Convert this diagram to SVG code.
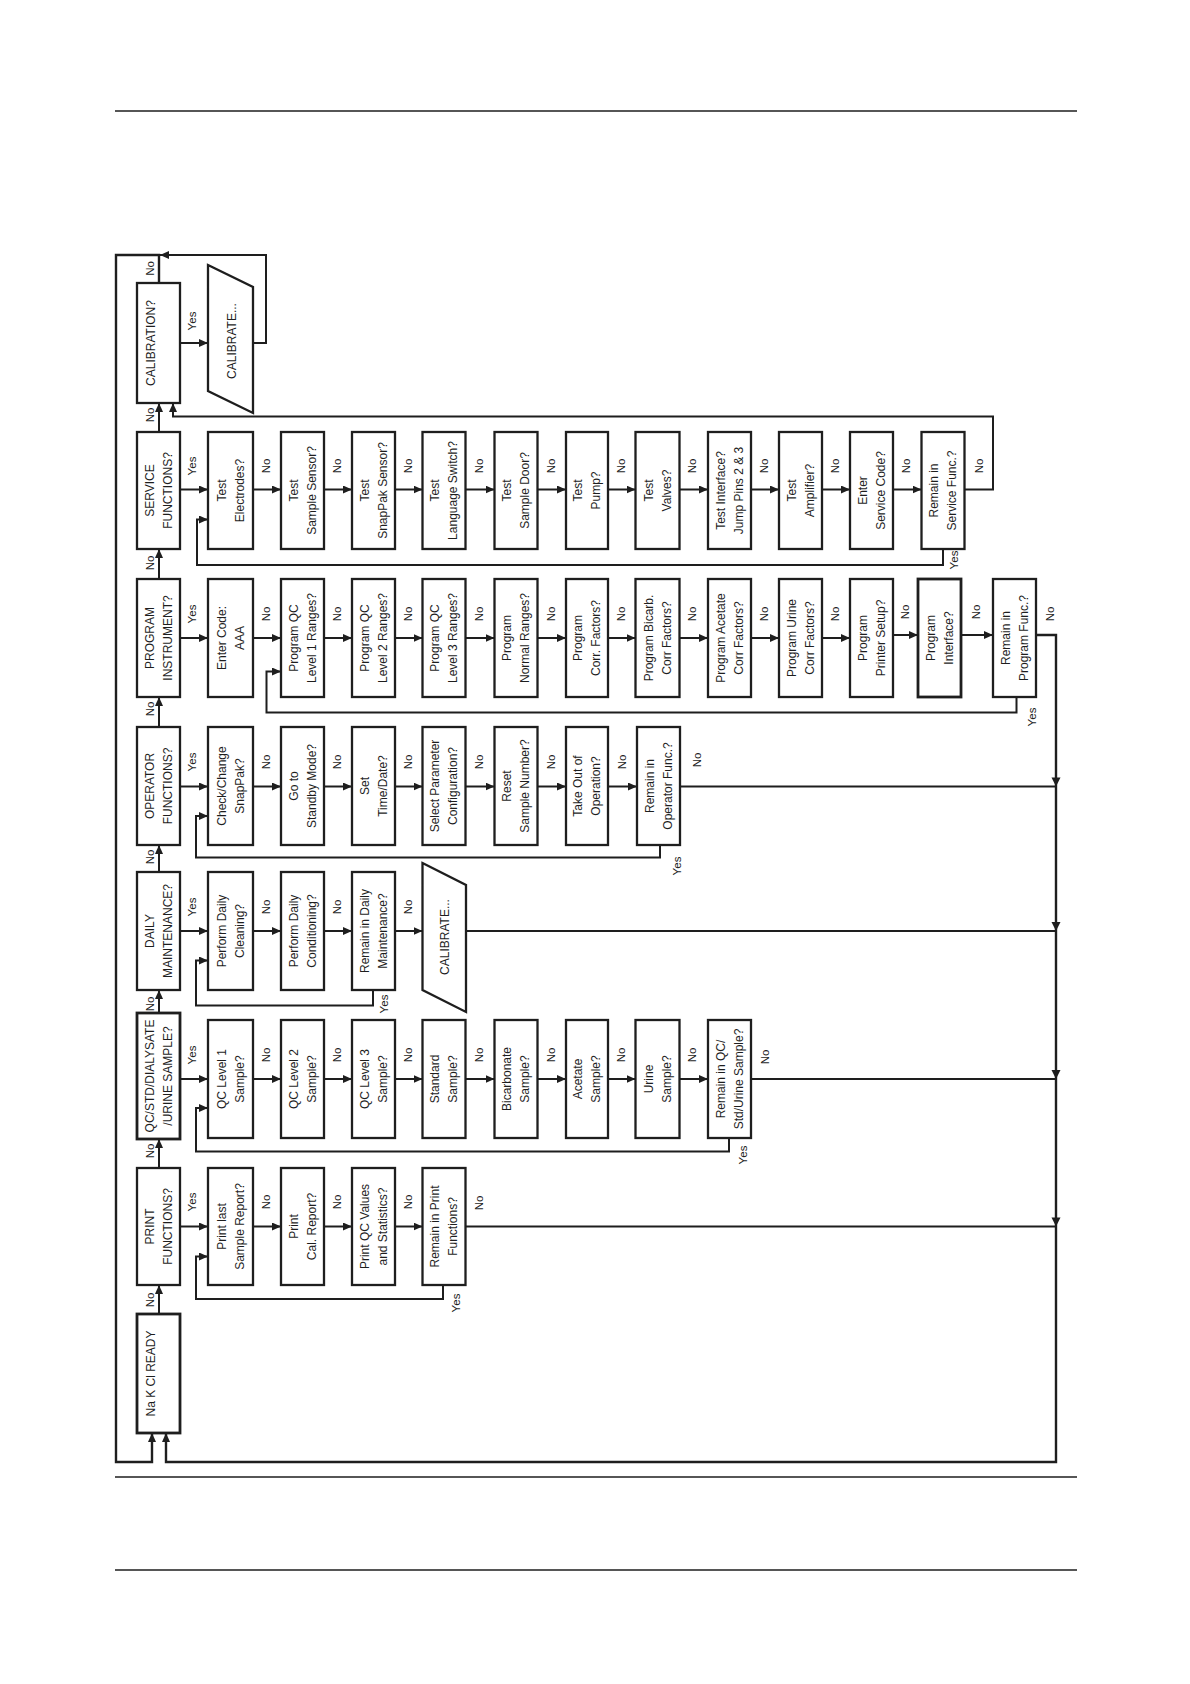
<svg xmlns="http://www.w3.org/2000/svg" xmlns:xlink="http://www.w3.org/1999/xlink" width="1190" height="1684" viewBox="0 0 1190 1684">
<style>
.box{fill:#fff;stroke:#1e1e1e;stroke-width:2.3}
.ln{fill:none;stroke:#1e1e1e;stroke-width:2}
.lnm{fill:none;stroke:#1e1e1e;stroke-width:2.4}
.pg{fill:none;stroke:#1e1e1e;stroke-width:1.4}
.t{font-family:"Liberation Sans",Arial,Helvetica,sans-serif;font-size:12px;fill:#1e1e1e;text-anchor:middle}
.l{font-family:"Liberation Sans",Arial,Helvetica,sans-serif;font-size:11.5px;fill:#1e1e1e;text-anchor:middle}
.ah{fill:#1e1e1e}
</style>
<defs>
<marker id="ar" markerWidth="9" markerHeight="8" refX="9" refY="4" orient="auto" markerUnits="userSpaceOnUse"><path d="M0,0 L9,4 L0,8 z" class="ah"/></marker>
<path id="dn" d="M-4.5,-9 L4.5,-9 L0,0 z" class="ah"/>
</defs>
<rect width="1190" height="1684" fill="#fff"/>
<g id="page-lines">
<line class="pg" x1="115" y1="111" x2="1077" y2="111"/>
<line class="pg" x1="115" y1="1477" x2="1077" y2="1477"/>
<line class="pg" x1="115" y1="1570" x2="1077" y2="1570"/>
</g>

<g id="connectors">
<!-- outer loops -->
<path class="lnm" d="M159,283 V255 H116 V1462 H152 V1433" marker-end="url(#ar)"/>
<path class="ln" d="M253,343 H266 V255 H160" marker-end="url(#ar)"/>
<path class="ln" d="M180,343 H208" marker-end="url(#ar)"/>
<path class="lnm" d="M1036,635 H1056 V1462 H166 V1433" marker-end="url(#ar)"/>
<use xlink:href="#dn" x="1056" y="786.5"/>
<use xlink:href="#dn" x="1056" y="931"/>
<use xlink:href="#dn" x="1056" y="1079"/>
<use xlink:href="#dn" x="1056" y="1226.5"/>
<!-- main column up arrows -->
<path class="ln" d="M159,432 V403" marker-end="url(#ar)"/>
<path class="ln" d="M159,579 V549" marker-end="url(#ar)"/>
<path class="ln" d="M159,727 V697" marker-end="url(#ar)"/>
<path class="ln" d="M159,872 V845" marker-end="url(#ar)"/>
<path class="ln" d="M159,1013 V990" marker-end="url(#ar)"/>
<path class="ln" d="M159,1168 V1139" marker-end="url(#ar)"/>
<path class="ln" d="M159,1314 V1285" marker-end="url(#ar)"/>
<!-- service row -->
<g marker-end="url(#ar)">
<path class="ln" d="M180,489.5 H208"/><path class="ln" d="M253,489.5 H281"/><path class="ln" d="M324,489.5 H352"/>
<path class="ln" d="M395,489.5 H422.5"/><path class="ln" d="M465.5,489.5 H494.5"/><path class="ln" d="M537.5,489.5 H566"/>
<path class="ln" d="M608,489.5 H635.5"/><path class="ln" d="M679.5,489.5 H708"/><path class="ln" d="M751,489.5 H779"/>
<path class="ln" d="M822,489.5 H850"/><path class="ln" d="M893,489.5 H921.5"/>
<path class="ln" d="M964.5,489.5 H993 V416.5 H173 V403"/>
<path class="ln" d="M943,549 V565 H197 V519.5 H208"/>
</g>
<!-- program row -->
<g marker-end="url(#ar)">
<path class="ln" d="M180,638 H208"/><path class="ln" d="M253,638 H281"/><path class="ln" d="M324,638 H352"/>
<path class="ln" d="M395,638 H422.5"/><path class="ln" d="M465.5,638 H494.5"/><path class="ln" d="M537.5,638 H566"/>
<path class="ln" d="M608,638 H635.5"/><path class="ln" d="M679.5,638 H708"/><path class="ln" d="M751,638 H779"/>
<path class="ln" d="M822,638 H850"/><path class="ln" d="M893,635 H918"/><path class="ln" d="M961,635 H993"/>
<path class="ln" d="M1016.5,697 V712.5 H266.5 V671.5 H281"/>
</g>
<!-- operator row -->
<g marker-end="url(#ar)">
<path class="ln" d="M180,786.5 H208"/><path class="ln" d="M253,786.5 H281"/><path class="ln" d="M324,786.5 H352"/>
<path class="ln" d="M395,786.5 H422.5"/><path class="ln" d="M465.5,786.5 H494.5"/><path class="ln" d="M537.5,786.5 H566"/>
<path class="ln" d="M608,786.5 H637"/>
<path class="ln" d="M660,845 V857.5 H196 V816 H208"/>
</g>
<path class="ln" d="M680,786.5 H1056"/>
<!-- daily row -->
<g marker-end="url(#ar)">
<path class="ln" d="M180,931 H208"/><path class="ln" d="M253,931 H281"/><path class="ln" d="M324,931 H352"/>
<path class="ln" d="M395,931 H422.5"/>
<path class="ln" d="M373,990 V1005.5 H196 V960.5 H208"/>
</g>
<path class="ln" d="M466,931 H1056"/>
<!-- qc row -->
<g marker-end="url(#ar)">
<path class="ln" d="M180,1079 H208"/><path class="ln" d="M253,1079 H281"/><path class="ln" d="M324,1079 H352"/>
<path class="ln" d="M395,1079 H422.5"/><path class="ln" d="M465.5,1079 H494.5"/><path class="ln" d="M537.5,1079 H566"/>
<path class="ln" d="M608,1079 H635.5"/><path class="ln" d="M679.5,1079 H708"/>
<path class="ln" d="M729,1138 V1151.5 H196 V1108 H208"/>
</g>
<path class="ln" d="M751,1079 H1056"/>
<!-- print row -->
<g marker-end="url(#ar)">
<path class="ln" d="M180,1226.5 H208"/><path class="ln" d="M253,1226.5 H281"/><path class="ln" d="M324,1226.5 H352"/>
<path class="ln" d="M395,1226.5 H422.5"/>
<path class="ln" d="M443,1285 V1299 H196 V1256.5 H208"/>
</g>
<path class="ln" d="M465.5,1226.5 H1056"/>
</g>

<g id="edge-labels" class="l">
<!-- main No -->
<text class="l" transform="translate(149.5,268.5) rotate(-90)" y="4.2">No</text>
<text class="l" transform="translate(149.5,415) rotate(-90)" y="4.2">No</text>
<text class="l" transform="translate(149.5,563) rotate(-90)" y="4.2">No</text>
<text class="l" transform="translate(149.5,709) rotate(-90)" y="4.2">No</text>
<text class="l" transform="translate(149.5,857) rotate(-90)" y="4.2">No</text>
<text class="l" transform="translate(149.5,1004) rotate(-90)" y="4.2">No</text>
<text class="l" transform="translate(149.5,1151) rotate(-90)" y="4.2">No</text>
<text class="l" transform="translate(149.5,1300) rotate(-90)" y="4.2">No</text>
<!-- main Yes -->
<text class="l" transform="translate(192,321) rotate(-90)" y="4.2">Yes</text>
<text class="l" transform="translate(192,466) rotate(-90)" y="4.2">Yes</text>
<text class="l" transform="translate(192,614) rotate(-90)" y="4.2">Yes</text>
<text class="l" transform="translate(192,762) rotate(-90)" y="4.2">Yes</text>
<text class="l" transform="translate(192,907) rotate(-90)" y="4.2">Yes</text>
<text class="l" transform="translate(192,1055) rotate(-90)" y="4.2">Yes</text>
<text class="l" transform="translate(192,1202) rotate(-90)" y="4.2">Yes</text>
<!-- service row No -->
<text class="l" transform="translate(266,466) rotate(-90)" y="4.2">No</text>
<text class="l" transform="translate(337,466) rotate(-90)" y="4.2">No</text>
<text class="l" transform="translate(408,466) rotate(-90)" y="4.2">No</text>
<text class="l" transform="translate(479,466) rotate(-90)" y="4.2">No</text>
<text class="l" transform="translate(551,466) rotate(-90)" y="4.2">No</text>
<text class="l" transform="translate(621,466) rotate(-90)" y="4.2">No</text>
<text class="l" transform="translate(692,466) rotate(-90)" y="4.2">No</text>
<text class="l" transform="translate(764,466) rotate(-90)" y="4.2">No</text>
<text class="l" transform="translate(835,466) rotate(-90)" y="4.2">No</text>
<text class="l" transform="translate(906,466) rotate(-90)" y="4.2">No</text>
<text class="l" transform="translate(979,466) rotate(-90)" y="4.2">No</text>
<text class="l" transform="translate(954,560) rotate(-90)" y="4.2">Yes</text>
<!-- program row No -->
<text class="l" transform="translate(266,614) rotate(-90)" y="4.2">No</text>
<text class="l" transform="translate(337,614) rotate(-90)" y="4.2">No</text>
<text class="l" transform="translate(408,614) rotate(-90)" y="4.2">No</text>
<text class="l" transform="translate(479,614) rotate(-90)" y="4.2">No</text>
<text class="l" transform="translate(551,614) rotate(-90)" y="4.2">No</text>
<text class="l" transform="translate(621,614) rotate(-90)" y="4.2">No</text>
<text class="l" transform="translate(692,614) rotate(-90)" y="4.2">No</text>
<text class="l" transform="translate(764,614) rotate(-90)" y="4.2">No</text>
<text class="l" transform="translate(835,614) rotate(-90)" y="4.2">No</text>
<text class="l" transform="translate(905,612) rotate(-90)" y="4.2">No</text>
<text class="l" transform="translate(976,612) rotate(-90)" y="4.2">No</text>
<text class="l" transform="translate(1050,614) rotate(-90)" y="4.2">No</text>
<text class="l" transform="translate(1031.5,717) rotate(-90)" y="4.2">Yes</text>
<!-- operator row -->
<text class="l" transform="translate(266,762) rotate(-90)" y="4.2">No</text>
<text class="l" transform="translate(337,762) rotate(-90)" y="4.2">No</text>
<text class="l" transform="translate(408,762) rotate(-90)" y="4.2">No</text>
<text class="l" transform="translate(479,762) rotate(-90)" y="4.2">No</text>
<text class="l" transform="translate(551,762) rotate(-90)" y="4.2">No</text>
<text class="l" transform="translate(622,762) rotate(-90)" y="4.2">No</text>
<text class="l" transform="translate(697,760) rotate(-90)" y="4.2">No</text>
<text class="l" transform="translate(676.5,866) rotate(-90)" y="4.2">Yes</text>
<!-- daily row -->
<text class="l" transform="translate(266,907) rotate(-90)" y="4.2">No</text>
<text class="l" transform="translate(337,907) rotate(-90)" y="4.2">No</text>
<text class="l" transform="translate(408,907) rotate(-90)" y="4.2">No</text>
<text class="l" transform="translate(384,1004) rotate(-90)" y="4.2">Yes</text>
<!-- qc row -->
<text class="l" transform="translate(266,1055) rotate(-90)" y="4.2">No</text>
<text class="l" transform="translate(337,1055) rotate(-90)" y="4.2">No</text>
<text class="l" transform="translate(408,1055) rotate(-90)" y="4.2">No</text>
<text class="l" transform="translate(479,1055) rotate(-90)" y="4.2">No</text>
<text class="l" transform="translate(551,1055) rotate(-90)" y="4.2">No</text>
<text class="l" transform="translate(621,1055) rotate(-90)" y="4.2">No</text>
<text class="l" transform="translate(692,1055) rotate(-90)" y="4.2">No</text>
<text class="l" transform="translate(765,1057) rotate(-90)" y="4.2">No</text>
<text class="l" transform="translate(743,1155) rotate(-90)" y="4.2">Yes</text>
<!-- print row -->
<text class="l" transform="translate(266,1202) rotate(-90)" y="4.2">No</text>
<text class="l" transform="translate(337,1202) rotate(-90)" y="4.2">No</text>
<text class="l" transform="translate(408,1202) rotate(-90)" y="4.2">No</text>
<text class="l" transform="translate(479,1203) rotate(-90)" y="4.2">No</text>
<text class="l" transform="translate(455.5,1303) rotate(-90)" y="4.2">Yes</text>
</g>

<!-- main column -->
<g id="calibration"><rect class="box" x="137" y="283" width="43" height="120"/><text class="t" transform="translate(150.5,343) rotate(-90)" y="4.3">CALIBRATION?</text></g>
<g id="calibrate-top"><path class="box" d="M208,265 L253,287 L253,413 L208,391 Z"/><text class="t" transform="translate(231.5,341) rotate(-90)" y="4.3">CALIBRATE...</text></g>
<g id="service"><rect class="box" x="137" y="432" width="43" height="117"/><text class="t" transform="translate(158.5,490.5) rotate(-90)"><tspan x="0" y="-4.7">SERVICE</tspan><tspan x="0" y="13.3">FUNCTIONS?</tspan></text></g>
<g id="program"><rect class="box" x="137" y="579" width="43" height="118"/><text class="t" transform="translate(158.5,638) rotate(-90)"><tspan x="0" y="-4.7">PROGRAM</tspan><tspan x="0" y="13.3">INSTRUMENT?</tspan></text></g>
<g id="operator"><rect class="box" x="137" y="727" width="43" height="118"/><text class="t" transform="translate(158.5,786) rotate(-90)"><tspan x="0" y="-4.7">OPERATOR</tspan><tspan x="0" y="13.3">FUNCTIONS?</tspan></text></g>
<g id="daily"><rect class="box" x="137" y="872" width="43" height="118"/><text class="t" transform="translate(158.5,931) rotate(-90)"><tspan x="0" y="-4.7">DAILY</tspan><tspan x="0" y="13.3">MAINTENANCE?</tspan></text></g>
<g id="qc"><rect class="box" x="137" y="1013" width="43" height="126" style="stroke-width:2.8"/><text class="t" transform="translate(158.5,1076) rotate(-90)"><tspan x="0" y="-4.7">QC/STD/DIALYSATE</tspan><tspan x="0" y="13.3">/URINE SAMPLE?</tspan></text></g>
<g id="print"><rect class="box" x="137" y="1168" width="43" height="117"/><text class="t" transform="translate(158.5,1226.5) rotate(-90)"><tspan x="0" y="-4.7">PRINT</tspan><tspan x="0" y="13.3">FUNCTIONS?</tspan></text></g>
<g id="ready"><rect class="box" x="137" y="1314" width="43" height="119" style="stroke-width:2.8"/><text class="t" transform="translate(150.5,1373.5) rotate(-90)" y="4.3">Na K Cl  READY</text></g>

<!-- service row nodes -->
<g id="s1"><rect class="box" x="208" y="432" width="45" height="117"/><text class="t" transform="translate(230.5,490.5) rotate(-90)"><tspan x="0" y="-4.7">Test</tspan><tspan x="0" y="13.3">Electrodes?</tspan></text></g>
<g id="s2"><rect class="box" x="281" y="432" width="43" height="117"/><text class="t" transform="translate(302.5,490.5) rotate(-90)"><tspan x="0" y="-4.7">Test</tspan><tspan x="0" y="13.3">Sample Sensor?</tspan></text></g>
<g id="s3"><rect class="box" x="352" y="432" width="43" height="117"/><text class="t" transform="translate(373.5,490.5) rotate(-90)"><tspan x="0" y="-4.7">Test</tspan><tspan x="0" y="13.3">SnapPak Sensor?</tspan></text></g>
<g id="s4"><rect class="box" x="422.5" y="432" width="43" height="117"/><text class="t" transform="translate(444,490.5) rotate(-90)"><tspan x="0" y="-4.7">Test</tspan><tspan x="0" y="13.3">Language Switch?</tspan></text></g>
<g id="s5"><rect class="box" x="494.5" y="432" width="43" height="117"/><text class="t" transform="translate(516,490.5) rotate(-90)"><tspan x="0" y="-4.7">Test</tspan><tspan x="0" y="13.3">Sample Door?</tspan></text></g>
<g id="s6"><rect class="box" x="566" y="432" width="42" height="117"/><text class="t" transform="translate(587,490.5) rotate(-90)"><tspan x="0" y="-4.7">Test</tspan><tspan x="0" y="13.3">Pump?</tspan></text></g>
<g id="s7"><rect class="box" x="635.5" y="432" width="44" height="117"/><text class="t" transform="translate(657.5,490.5) rotate(-90)"><tspan x="0" y="-4.7">Test</tspan><tspan x="0" y="13.3">Valves?</tspan></text></g>
<g id="s8"><rect class="box" x="708" y="432" width="43" height="117"/><text class="t" transform="translate(729.5,490.5) rotate(-90)"><tspan x="0" y="-4.7">Test Interface?</tspan><tspan x="0" y="13.3">Jump Pins 2 &amp; 3</tspan></text></g>
<g id="s9"><rect class="box" x="779" y="432" width="43" height="117"/><text class="t" transform="translate(800.5,490.5) rotate(-90)"><tspan x="0" y="-4.7">Test</tspan><tspan x="0" y="13.3">Amplifier?</tspan></text></g>
<g id="s10"><rect class="box" x="850" y="432" width="43" height="117"/><text class="t" transform="translate(871.5,490.5) rotate(-90)"><tspan x="0" y="-4.7">Enter</tspan><tspan x="0" y="13.3">Service Code?</tspan></text></g>
<g id="s11"><rect class="box" x="921.5" y="432" width="43" height="117"/><text class="t" transform="translate(943,490.5) rotate(-90)"><tspan x="0" y="-4.7">Remain in</tspan><tspan x="0" y="13.3">Service Func.?</tspan></text></g>

<!-- program row nodes -->
<g id="p1"><rect class="box" x="208" y="579" width="45" height="118"/><text class="t" transform="translate(230.5,638) rotate(-90)"><tspan x="0" y="-4.7">Enter Code:</tspan><tspan x="0" y="13.3">AAA</tspan></text></g>
<g id="p2"><rect class="box" x="281" y="579" width="43" height="118"/><text class="t" transform="translate(302.5,638) rotate(-90)"><tspan x="0" y="-4.7">Program QC</tspan><tspan x="0" y="13.3">Level 1 Ranges?</tspan></text></g>
<g id="p3"><rect class="box" x="352" y="579" width="43" height="118"/><text class="t" transform="translate(373.5,638) rotate(-90)"><tspan x="0" y="-4.7">Program QC</tspan><tspan x="0" y="13.3">Level 2 Ranges?</tspan></text></g>
<g id="p4"><rect class="box" x="422.5" y="579" width="43" height="118"/><text class="t" transform="translate(444,638) rotate(-90)"><tspan x="0" y="-4.7">Program QC</tspan><tspan x="0" y="13.3">Level 3 Ranges?</tspan></text></g>
<g id="p5"><rect class="box" x="494.5" y="579" width="43" height="118"/><text class="t" transform="translate(516,638) rotate(-90)"><tspan x="0" y="-4.7">Program</tspan><tspan x="0" y="13.3">Normal Ranges?</tspan></text></g>
<g id="p6"><rect class="box" x="566" y="579" width="42" height="118"/><text class="t" transform="translate(587,638) rotate(-90)"><tspan x="0" y="-4.7">Program</tspan><tspan x="0" y="13.3">Corr. Factors?</tspan></text></g>
<g id="p7"><rect class="box" x="635.5" y="579" width="44" height="118"/><text class="t" transform="translate(657.5,638) rotate(-90)"><tspan x="0" y="-4.7">Program Bicarb.</tspan><tspan x="0" y="13.3">Corr Factors?</tspan></text></g>
<g id="p8"><rect class="box" x="708" y="579" width="43" height="118"/><text class="t" transform="translate(729.5,638) rotate(-90)"><tspan x="0" y="-4.7">Program Acetate</tspan><tspan x="0" y="13.3">Corr Factors?</tspan></text></g>
<g id="p9"><rect class="box" x="779" y="579" width="43" height="118"/><text class="t" transform="translate(800.5,638) rotate(-90)"><tspan x="0" y="-4.7">Program Urine</tspan><tspan x="0" y="13.3">Corr Factors?</tspan></text></g>
<g id="p10"><rect class="box" x="850" y="579" width="43" height="118"/><text class="t" transform="translate(871.5,638) rotate(-90)"><tspan x="0" y="-4.7">Program</tspan><tspan x="0" y="13.3">Printer Setup?</tspan></text></g>
<g id="p11"><rect class="box" x="918" y="579" width="43" height="118" style="stroke-width:2.8"/><text class="t" transform="translate(939.5,638) rotate(-90)"><tspan x="0" y="-4.7">Program</tspan><tspan x="0" y="13.3">Interface?</tspan></text></g>
<g id="p12"><rect class="box" x="993" y="579" width="43" height="118"/><text class="t" transform="translate(1014.5,638) rotate(-90)"><tspan x="0" y="-4.7">Remain in</tspan><tspan x="0" y="13.3">Program Func.?</tspan></text></g>

<!-- operator row nodes -->
<g id="o1"><rect class="box" x="208" y="727" width="45" height="118"/><text class="t" transform="translate(230.5,786) rotate(-90)"><tspan x="0" y="-4.7">Check/Change</tspan><tspan x="0" y="13.3">SnapPak?</tspan></text></g>
<g id="o2"><rect class="box" x="281" y="727" width="43" height="118"/><text class="t" transform="translate(302.5,786) rotate(-90)"><tspan x="0" y="-4.7">Go to</tspan><tspan x="0" y="13.3">Standby Mode?</tspan></text></g>
<g id="o3"><rect class="box" x="352" y="727" width="43" height="118"/><text class="t" transform="translate(373.5,786) rotate(-90)"><tspan x="0" y="-4.7">Set</tspan><tspan x="0" y="13.3">Time/Date?</tspan></text></g>
<g id="o4"><rect class="box" x="422.5" y="727" width="43" height="118"/><text class="t" transform="translate(444,786) rotate(-90)"><tspan x="0" y="-4.7">Select Parameter</tspan><tspan x="0" y="13.3">Configuration?</tspan></text></g>
<g id="o5"><rect class="box" x="494.5" y="727" width="43" height="118"/><text class="t" transform="translate(516,786) rotate(-90)"><tspan x="0" y="-4.7">Reset</tspan><tspan x="0" y="13.3">Sample Number?</tspan></text></g>
<g id="o6"><rect class="box" x="566" y="727" width="42" height="118"/><text class="t" transform="translate(587,786) rotate(-90)"><tspan x="0" y="-4.7">Take Out of</tspan><tspan x="0" y="13.3">Operation?</tspan></text></g>
<g id="o7"><rect class="box" x="637" y="727" width="43" height="118"/><text class="t" transform="translate(658.5,786) rotate(-90)"><tspan x="0" y="-4.7">Remain in</tspan><tspan x="0" y="13.3">Operator Func.?</tspan></text></g>

<!-- daily row nodes -->
<g id="d1"><rect class="box" x="208" y="872" width="45" height="118"/><text class="t" transform="translate(230.5,931) rotate(-90)"><tspan x="0" y="-4.7">Perform Daily</tspan><tspan x="0" y="13.3">Cleaning?</tspan></text></g>
<g id="d2"><rect class="box" x="281" y="872" width="43" height="118"/><text class="t" transform="translate(302.5,931) rotate(-90)"><tspan x="0" y="-4.7">Perform Daily</tspan><tspan x="0" y="13.3">Conditioning?</tspan></text></g>
<g id="d3"><rect class="box" x="352" y="872" width="43" height="118"/><text class="t" transform="translate(373.5,931) rotate(-90)"><tspan x="0" y="-4.7">Remain in Daily</tspan><tspan x="0" y="13.3">Maintenance?</tspan></text></g>
<g id="d4"><path class="box" d="M422.5,863 L466,885 L466,1012 L422.5,990 Z"/><text class="t" transform="translate(445,937) rotate(-90)" y="4.3">CALIBRATE...</text></g>

<!-- qc row nodes -->
<g id="q1"><rect class="box" x="208" y="1020" width="45" height="118"/><text class="t" transform="translate(230.5,1079) rotate(-90)"><tspan x="0" y="-4.7">QC Level 1</tspan><tspan x="0" y="13.3">Sample?</tspan></text></g>
<g id="q2"><rect class="box" x="281" y="1020" width="43" height="118"/><text class="t" transform="translate(302.5,1079) rotate(-90)"><tspan x="0" y="-4.7">QC Level 2</tspan><tspan x="0" y="13.3">Sample?</tspan></text></g>
<g id="q3"><rect class="box" x="352" y="1020" width="43" height="118"/><text class="t" transform="translate(373.5,1079) rotate(-90)"><tspan x="0" y="-4.7">QC Level 3</tspan><tspan x="0" y="13.3">Sample?</tspan></text></g>
<g id="q4"><rect class="box" x="422.5" y="1020" width="43" height="118"/><text class="t" transform="translate(444,1079) rotate(-90)"><tspan x="0" y="-4.7">Standard</tspan><tspan x="0" y="13.3">Sample?</tspan></text></g>
<g id="q5"><rect class="box" x="494.5" y="1020" width="43" height="118"/><text class="t" transform="translate(516,1079) rotate(-90)"><tspan x="0" y="-4.7">Bicarbonate</tspan><tspan x="0" y="13.3">Sample?</tspan></text></g>
<g id="q6"><rect class="box" x="566" y="1020" width="42" height="118"/><text class="t" transform="translate(587,1079) rotate(-90)"><tspan x="0" y="-4.7">Acetate</tspan><tspan x="0" y="13.3">Sample?</tspan></text></g>
<g id="q7"><rect class="box" x="635.5" y="1020" width="44" height="118"/><text class="t" transform="translate(657.5,1079) rotate(-90)"><tspan x="0" y="-4.7">Urine</tspan><tspan x="0" y="13.3">Sample?</tspan></text></g>
<g id="q8"><rect class="box" x="708" y="1020" width="43" height="118"/><text class="t" transform="translate(729.5,1079) rotate(-90)"><tspan x="0" y="-4.7">Remain in QC/</tspan><tspan x="0" y="13.3">Std/Urine Sample?</tspan></text></g>

<!-- print row nodes -->
<g id="r1"><rect class="box" x="208" y="1168" width="45" height="117"/><text class="t" transform="translate(230.5,1226.5) rotate(-90)"><tspan x="0" y="-4.7">Print last</tspan><tspan x="0" y="13.3">Sample Report?</tspan></text></g>
<g id="r2"><rect class="box" x="281" y="1168" width="43" height="117"/><text class="t" transform="translate(302.5,1226.5) rotate(-90)"><tspan x="0" y="-4.7">Print</tspan><tspan x="0" y="13.3">Cal. Report?</tspan></text></g>
<g id="r3"><rect class="box" x="352" y="1168" width="43" height="117"/><text class="t" transform="translate(373.5,1226.5) rotate(-90)"><tspan x="0" y="-4.7">Print QC Values</tspan><tspan x="0" y="13.3">and Statistics?</tspan></text></g>
<g id="r4"><rect class="box" x="422.5" y="1168" width="43" height="117"/><text class="t" transform="translate(444,1226.5) rotate(-90)"><tspan x="0" y="-4.7">Remain in Print</tspan><tspan x="0" y="13.3">Functions?</tspan></text></g>
</svg>
